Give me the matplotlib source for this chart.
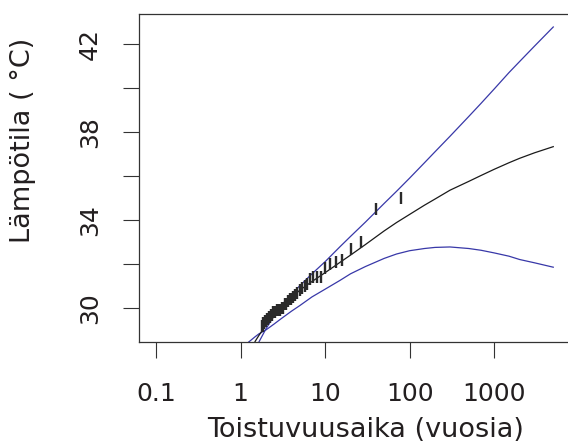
import numpy as np
import matplotlib
matplotlib.use("Agg")
import matplotlib.pyplot as plt

# Empirical return periods (years) and observed maxima (deg C)
obs_period = [80, 40, 26.7, 20, 16, 13.3, 11.4, 10, 8.89, 8, 7.27, 6.67, 6.15,
              5.71, 5.33, 5, 4.71, 4.44, 4.21, 4, 3.81, 3.64, 3.48, 3.33, 3.2,
              3.08, 2.96, 2.86, 2.76, 2.67, 2.58, 2.5, 2.42, 2.35, 2.29, 2.22,
              2.16, 2.11, 2.05, 2, 1.95, 1.9, 1.86, 1.82, 1.78]
obs_temp = [35.0, 34.5, 33.0, 32.7, 32.2, 32.1, 32.0, 31.8, 31.4, 31.4, 31.4,
            31.3, 31.1, 31.0, 30.9, 30.8, 30.7, 30.6, 30.5, 30.4, 30.4, 30.3,
            30.2, 30.2, 30.0, 30.0, 29.9, 29.9, 29.9, 29.9, 29.8, 29.8, 29.8,
            29.7, 29.7, 29.6, 29.6, 29.5, 29.5, 29.4, 29.4, 29.3, 29.3, 29.2,
            29.2]

# Fitted return level curve with confidence band
curve_period = [1.25, 1.5, 1.65, 2, 2.5, 3, 4, 5, 7, 10, 15, 20, 30, 50, 70,
                100, 150, 200, 300, 500, 700, 1000, 1500, 2000, 3000, 5000]
level_fit = [27.9, 28.5, 28.75, 29.2, 29.62, 29.95, 30.45, 30.8, 31.2, 31.6,
             32.07, 32.4, 32.88, 33.5, 33.88, 34.25, 34.67, 34.95, 35.35,
             35.75, 36.02, 36.3, 36.6, 36.8, 37.05, 37.33]
level_upper = [27.2, 28.0, 28.45, 29.05, 29.65, 30.1, 30.62, 31.0, 31.55,
               32.1, 32.78, 33.25, 33.9, 34.75, 35.3, 35.9, 36.6, 37.1, 37.8,
               38.7, 39.3, 39.95, 40.7, 41.2, 41.9, 42.77]
level_lower = [28.45, 28.7, 28.82, 29.0, 29.27, 29.5, 29.85, 30.1, 30.5,
               30.85, 31.25, 31.55, 31.88, 32.25, 32.45, 32.6, 32.7, 32.75,
               32.77, 32.7, 32.62, 32.5, 32.35, 32.2, 32.05, 31.85]

x_ticks = [0.1, 1, 10, 100, 1000]
x_tick_labels = ["0.1", "1", "10", "100", "1000"]
y_ticks = [30, 32, 34, 36, 38, 40, 42]
y_tick_labels = ["30", "", "34", "", "38", "", "42"]

plt.rcParams["font.family"] = ["DejaVu Sans"]
text_col = "#231f20"
axis_col = "#333333"

W, H = 568, 443
fig = plt.figure(figsize=(W / 100, H / 100), dpi=100)

# axes box in pixels: left 139, top 14, bottom 342, right past image edge
left, top, bottom, right = 139, 14, 342, 593
ax = fig.add_axes([left / W, 1 - bottom / H, (right - left) / W, (bottom - top) / H])

ax.plot(curve_period, level_upper, color="#3838a8", lw=0.9)
ax.plot(curve_period, level_lower, color="#3838a8", lw=0.9)
ax.plot(curve_period, level_fit, color="#1a1a1a", lw=0.9)
ax.plot(obs_period, obs_temp, linestyle="none", marker="|", markersize=9,
        markeredgewidth=1.7, color="#2a2a2a")

ax.set_xscale("log")
ax.set_xlim(10 ** -1.201, 10 ** 4.169)
ax.set_ylim(28.45, 43.36)

ax.set_xticks(x_ticks)
ax.set_xticklabels(x_tick_labels)
ax.xaxis.set_minor_locator(matplotlib.ticker.NullLocator())
ax.set_yticks(y_ticks)
ax.set_yticklabels(y_tick_labels, rotation=90, va="center")

ax.tick_params(axis="both", direction="out", length=11.5, width=0.8,
               color=axis_col, labelsize=18, labelcolor=text_col)
ax.tick_params(axis="x", pad=17)
ax.tick_params(axis="y", pad=15)

for side in ["left", "top", "bottom", "right"]:
    ax.spines[side].set_color(axis_col)
    ax.spines[side].set_linewidth(0.9)

fig.text(366 / W, 1 - 430 / H, "Toistuvuusaika (vuosia)", ha="center",
         va="center", fontsize=19.5, color=text_col)
fig.text(23 / W, 1 - 140 / H, "Lämpötila ( °C)", ha="center", va="center",
         rotation=90, fontsize=19.5, color=text_col)

fig.savefig("out.png", dpi=100)
